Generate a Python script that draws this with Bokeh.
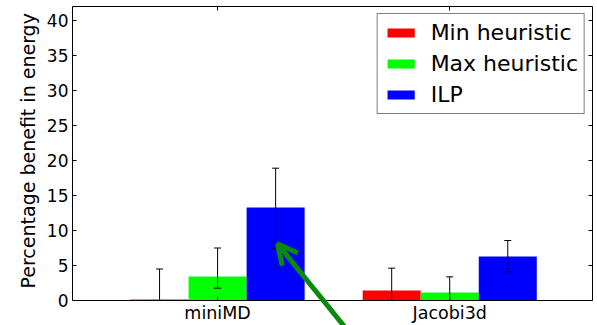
from bokeh.plotting import figure
from bokeh.models import (LinearAxis, FixedTicker, Range1d, Legend, LegendItem,
                          Arrow, OpenHead, ColumnDataSource, Span, Title)
from bokeh.core.properties import value
from bokeh.embed import file_html
from bokeh.resources import INLINE

# ---- data ----
categories = ["miniMD", "Jacobi3d"]
series_names = ["Min heuristic", "Max heuristic", "ILP"]
series_colors = ["#ff0000", "#00ff00", "#0000ff"]

min_heur = [0.15, 1.43]
max_heur = [3.43, 1.14]
ilp = [13.3, 6.29]

min_heur_lo = [-4.2, -1.8]
min_heur_hi = [4.5, 4.62]
max_heur_lo = [1.76, -1.1]
max_heur_hi = [7.5, 3.38]
ilp_lo = [7.47, 4.1]
ilp_hi = [18.9, 8.57]

y_ticks = [0, 5, 10, 15, 20, 25, 30, 35, 40]
y_max = 42
y_label = "Percentage benefit in energy"

# annotation arrow (data coordinates): tail -> tip
arrow_tail = (0.95, -4.9)
arrow_tip = (0.633, 8.1)

bar_w = 0.25
FONT = "DejaVu Sans"
ARROW_GREEN = "#0a8a0a"

# the frame reaches the bottom of the canvas so the arrow can run past the x axis;
# the x axis (line, ticks, labels) is drawn at y = 0
y_below = -25 / 7.0
p = figure(width=597, height=325, x_range=Range1d(-0.25, 1.99), y_range=Range1d(y_below, y_max),
           output_backend="svg", toolbar_location=None, x_axis_location=None,
           min_border_left=72, min_border_right=5, min_border_top=6, min_border_bottom=0)
p.grid.visible = False
p.outline_line_color = None
p.background_fill_color = "white"
p.border_fill_color = "white"

values = [min_heur, max_heur, ilp]
lows = [min_heur_lo, max_heur_lo, ilp_lo]
highs = [min_heur_hi, max_heur_hi, ilp_hi]

items = []
for k, (name, col, vals, lo, hi) in enumerate(zip(series_names, series_colors, values, lows, highs)):
    xs = [i + k * bar_w + bar_w / 2 for i in range(len(categories))]
    lo_vis = [max(v, 0) for v in lo]
    src = ColumnDataSource(dict(x=xs, top=vals, lo=lo, lo_vis=lo_vis, hi=hi))
    r = p.vbar(x="x", top="top", bottom=0, width=bar_w, source=src,
               fill_color=col, line_color=None)
    items.append(LegendItem(label=name, renderers=[r]))
    p.segment(x0="x", y0="lo_vis", x1="x", y1="hi", source=src, line_color="black", line_width=1)
    p.scatter(x="x", y="hi", source=src, marker="dash", size=7, line_color="black", line_width=1)
    lo_src = ColumnDataSource(dict(x=[x for x, v in zip(xs, lo) if v >= 0],
                                   y=[v for v in lo if v >= 0]))
    p.scatter(x="x", y="y", source=lo_src, marker="dash", size=7, line_color="black", line_width=1)

cat_ticks = [i + 1.5 * bar_w for i in range(len(categories))]

# bottom axis drawn at y = 0
p.add_layout(Span(location=0, dimension="width", line_color="black", line_width=1))
p.segment(x0=cat_ticks, y0=[0] * len(cat_ticks), x1=cat_ticks, y1=[4 / 7.0] * len(cat_ticks),
          line_color="black", line_width=1)
p.text(x=cat_ticks, y=[0] * len(cat_ticks), text=categories, text_align="center",
       text_baseline="alphabetic", y_offset=12, text_font=value(FONT),
       text_font_size="17.5px", text_color="black")

# left axis
ya = p.yaxis[0]
ya.ticker = FixedTicker(ticks=y_ticks)
ya.bounds = (0, y_max)
ya.axis_line_color = "black"
ya.major_tick_in = 4
ya.major_tick_out = 0
ya.minor_tick_line_color = None
ya.major_label_text_font = FONT
ya.major_label_text_font_size = "17px"
ya.major_label_text_color = "black"
ya.major_label_standoff = 4

# y axis title, placed along the 0..42 span (the frame runs lower)
ytitle = Title(text=y_label, align="left", offset=37, text_font=FONT,
               text_font_size="19px", text_font_style="normal", text_color="black",
               standoff=10)
p.add_layout(ytitle, "left")

ra = LinearAxis(ticker=FixedTicker(ticks=y_ticks), bounds=(0, y_max), major_tick_in=4, major_tick_out=0,
                minor_tick_line_color=None, major_label_standoff=0, axis_line_color="black",
                major_label_overrides={t: "" for t in y_ticks})
ta = LinearAxis(ticker=FixedTicker(ticks=cat_ticks), major_tick_in=4, major_tick_out=0,
                minor_tick_line_color=None, major_label_standoff=0, axis_line_color="black",
                major_label_overrides={t: "" for t in cat_ticks})
p.add_layout(ra, "right")
p.add_layout(ta, "above")

legend = Legend(items=items, location="top_right")
legend.glyph_width = 34
legend.glyph_height = 11
legend.label_text_font = FONT
legend.label_text_font_size = "22px"
legend.label_text_color = "black"
legend.label_height = 24
legend.spacing = 6
legend.padding = 6
legend.margin = 7
legend.label_standoff = 13
legend.border_line_color = "black"
legend.border_line_width = 1
legend.background_fill_alpha = 1
p.add_layout(legend)

arrow = Arrow(end=OpenHead(size=20, line_color=ARROW_GREEN, line_width=5),
              x_start=arrow_tail[0], y_start=arrow_tail[1],
              x_end=arrow_tip[0], y_end=arrow_tip[1],
              line_color=ARROW_GREEN, line_width=5)
p.add_layout(arrow)

open("out.html", "w").write(file_html(p, INLINE))
